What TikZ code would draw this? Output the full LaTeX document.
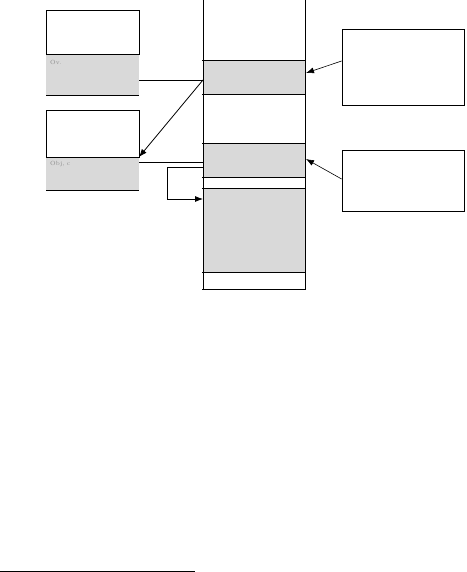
\documentclass[tikz,border=0pt]{standalone}
\usetikzlibrary{arrows.meta}
\definecolor{cellgray}{HTML}{D9D9D9}
\definecolor{txtgray}{HTML}{8A8A8A}
\tikzset{
  ln/.style={draw=black, line width=0.8pt},
  graycell/.style={fill=cellgray, draw=none},
  arr/.style={ln, -{Latex[length=8pt,width=6pt]}},
  thinarr/.style={draw=black, line width=0.6pt, -{Latex[length=8pt,width=6pt]}},
  lbl/.style={font=\fontsize{6}{7}\selectfont, text=txtgray, anchor=north west, inner sep=0pt},
  rbox/.style={draw=black, line width=0.8pt, minimum width=122pt, minimum height=76pt, inner sep=0pt}
}
\begin{document}
\begin{tikzpicture}[x=1pt,y=-1pt]
\useasboundingbox (0,0) rectangle (466,572);
% left block 1
\fill[cellgray] (46,54) rectangle (139,95);
\draw[ln] (46,10) rectangle (139,54);
\draw[ln] (46,95) -- (139,95);
\node[lbl] (t1) at (50,60) {Ov.};
% left block 2
\fill[cellgray] (46,157) rectangle (139,190);
\draw[ln] (46,110) rectangle (139,157);
\draw[ln] (46,190) -- (139,190);
\node[lbl] (t2) at (50,161) {Obj, c};
% center column
\fill[cellgray] (203,60) rectangle (305,94);
\fill[cellgray] (203,143) rectangle (305,177);
\fill[cellgray] (203,188) rectangle (305,272);
\draw[ln] (203,0) -- (203,289);
\draw[ln] (305,0) -- (305,289);
\foreach \yy in {60,94,143,177,188,272,289}
  \draw[ln] (202,\yy) -- (306,\yy);
% named anchor coordinates
\coordinate (a1) at (139,80);
\coordinate (c1) at (203,80);
\coordinate (a2) at (139,157);
\coordinate (b1) at (139,162);
\coordinate (c2) at (203,162);
\coordinate (c3) at (203,167);
\coordinate (c4) at (203,199);
\coordinate (r1t) at (306,73);
\coordinate (r2t) at (306,159);
% connectors
\draw[ln] (a1) -- (c1);
\draw[arr] (c1) -- (a2);
\draw[ln] (b1) -- (c2);
\draw[arr] (c3) -- (167,167) -- (167,199) -- (c4);
% right boxes
\node[rbox] (r1) at (403,67) {};
\node[rbox, minimum height=61pt] (r2) at (403,180.5) {};
\draw[thinarr] (r1.west |- 0,61) -- (r1t);
\draw[thinarr] (r2.west |- 0,179) -- (r2t);
% bottom rule
\coordinate (f1) at (0,571);
\coordinate (f2) at (195,571);
\draw[ln] (f1) -- (f2);
\end{tikzpicture}
\end{document}
